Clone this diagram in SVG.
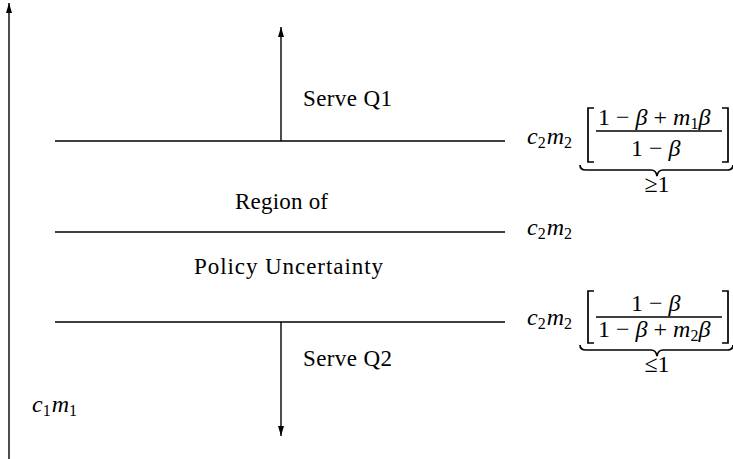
<svg xmlns="http://www.w3.org/2000/svg" width="733" height="459" viewBox="0 0 733 459">
  <style>
    .ln { stroke: #000; stroke-width: 1.4; fill: none; }
    .br { stroke: #000; stroke-width: 1.7; fill: none; }
    .t { font-family: "Liberation Serif", "DejaVu Serif", serif; font-size: 23px; fill: #000; }
    .m { font-family: "Liberation Serif", "DejaVu Serif", serif; font-size: 24px; fill: #000; }
    .i { font-style: italic; }
    .s { font-size: 16px; font-style: normal; }
  </style>
  <defs>
    <marker id="ah" viewBox="0 0 10 6" refX="10" refY="3" markerWidth="10" markerHeight="6" markerUnits="userSpaceOnUse" orient="auto">
      <path d="M0,0 L10,3 L0,6 Z" fill="#000"/>
    </marker>
  </defs>

  <!-- connectors: axis, thresholds and service arrows -->
  <g id="connectors">
    <line class="ln" x1="9" y1="459" x2="9" y2="3" marker-end="url(#ah)"/>
    <line class="ln" x1="55" y1="141" x2="505" y2="141"/>
    <line class="ln" x1="55" y1="232" x2="505" y2="232"/>
    <line class="ln" x1="55" y1="322" x2="505" y2="322"/>
    <line class="ln" x1="281" y1="141" x2="281" y2="27" marker-end="url(#ah)"/>
    <line class="ln" x1="281" y1="322" x2="281" y2="436" marker-end="url(#ah)"/>
  </g>

  <g id="serve-q1"><text class="t" x="303" y="106" textLength="89" lengthAdjust="spacing">Serve Q1</text></g>
  <g id="region"><text class="t" x="235" y="209" textLength="93" lengthAdjust="spacing">Region of</text></g>
  <g id="policy"><text class="t" x="194" y="274" textLength="189" lengthAdjust="spacing">Policy Uncertainty</text></g>
  <g id="serve-q2"><text class="t" x="303" y="366" textLength="89" lengthAdjust="spacing">Serve Q2</text></g>
  <g id="c1m1"><text class="m i" x="32" y="412">c<tspan class="s" dy="4">1</tspan><tspan dy="-4" dx="1">m</tspan><tspan class="s" dy="4">1</tspan></text></g>

  <!-- upper threshold -->
  <g id="upper-threshold">
    <text class="m i" x="527" y="144">c<tspan class="s" dy="4">2</tspan><tspan dy="-4" dx="1">m</tspan><tspan class="s" dy="4">2</tspan></text>
    <path class="br" d="M594,108 L588,108 L588,162 L594,162"/>
    <path class="br" d="M722,108 L728,108 L728,162 L722,162"/>
    <line class="ln" x1="596" y1="131" x2="722" y2="131"/>
    <text class="m" x="598" y="125">1<tspan dx="6">−</tspan><tspan class="i" dx="6">β</tspan><tspan dx="6">+</tspan><tspan class="i" dx="6">m</tspan><tspan class="s" dy="4">1</tspan><tspan class="i" dy="-4">β</tspan></text>
    <text class="m" x="631" y="156">1<tspan dx="6">−</tspan><tspan class="i" dx="6">β</tspan></text>
    <path class="br" d="M580,165 Q580,170 586,170 L651,170 Q656,170 657,176 Q658,170 663,170 L727,170 Q733,170 733,165"/>
    <text class="m" x="657" y="192" text-anchor="middle" font-size="15">≥1</text>
  </g>

  <g id="middle-threshold">
    <text class="m i" x="527" y="235">c<tspan class="s" dy="4">2</tspan><tspan dy="-4" dx="1">m</tspan><tspan class="s" dy="4">2</tspan></text>
  </g>

  <!-- lower threshold -->
  <g id="lower-threshold">
    <text class="m i" x="527" y="325">c<tspan class="s" dy="4">2</tspan><tspan dy="-4" dx="1">m</tspan><tspan class="s" dy="4">2</tspan></text>
    <path class="br" d="M594,291 L588,291 L588,343 L594,343"/>
    <path class="br" d="M722,291 L728,291 L728,343 L722,343"/>
    <line class="ln" x1="596" y1="317" x2="722" y2="317"/>
    <text class="m" x="631" y="311">1<tspan dx="6">−</tspan><tspan class="i" dx="6">β</tspan></text>
    <text class="m" x="598" y="337">1<tspan dx="6">−</tspan><tspan class="i" dx="6">β</tspan><tspan dx="6">+</tspan><tspan class="i" dx="6">m</tspan><tspan class="s" dy="4">2</tspan><tspan class="i" dy="-4">β</tspan></text>
    <path class="br" d="M580,345 Q580,350 586,350 L651,350 Q656,350 657,356 Q658,350 663,350 L727,350 Q733,350 733,345"/>
    <text class="m" x="657" y="372" text-anchor="middle" font-size="15">≤1</text>
  </g>
</svg>
